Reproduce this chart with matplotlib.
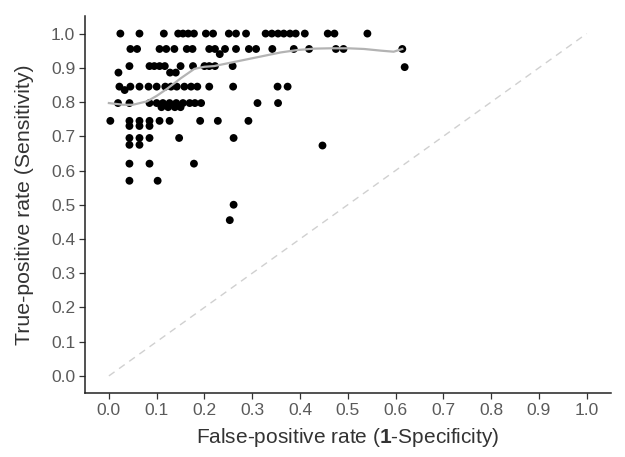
import matplotlib
matplotlib.use("Agg")
import matplotlib.pyplot as plt
import numpy as np

plt.rcParams['font.family'] = ['Liberation Sans', 'DejaVu Sans']
plt.rcParams['mathtext.fontset'] = 'custom'
plt.rcParams['mathtext.rm'] = 'Liberation Sans'
plt.rcParams['mathtext.bf'] = 'Liberation Sans:bold'

# Study points (false-positive rate, true-positive rate), grouped by sensitivity row
row_100 = [0.024, 0.064, 0.115, 0.145, 0.155, 0.166, 0.178, 0.203, 0.218, 0.251, 0.266,
           0.287, 0.328, 0.341, 0.354, 0.366, 0.379, 0.391, 0.41, 0.458, 0.472, 0.541]
row_955 = [0.045, 0.059, 0.106, 0.12, 0.137, 0.163, 0.175, 0.21, 0.222, 0.243, 0.266,
           0.293, 0.308, 0.342, 0.387, 0.419, 0.475, 0.491, 0.614]
row_905 = [0.043, 0.085, 0.095, 0.106, 0.117, 0.15, 0.176, 0.2, 0.21, 0.222, 0.259]
row_886 = [0.02, 0.128, 0.14]
row_845 = [0.022, 0.045, 0.064, 0.083, 0.1, 0.118, 0.13, 0.142, 0.158, 0.172, 0.185,
           0.21, 0.26, 0.353, 0.374]
row_797 = [0.019, 0.043, 0.085, 0.1, 0.113, 0.127, 0.141, 0.155, 0.169, 0.18, 0.193,
           0.311, 0.354]
row_785 = [0.11, 0.124, 0.138, 0.15]
row_745 = [0.003, 0.043, 0.064, 0.085, 0.106, 0.127, 0.191, 0.228, 0.292]
row_730 = [0.043, 0.064, 0.085]
row_695 = [0.043, 0.064, 0.085, 0.147, 0.261]
row_675 = [0.043, 0.064]
row_620 = [0.043, 0.085, 0.178]
row_570 = [0.043, 0.102]
row_500 = [0.261]
row_455 = [0.253]
extra_fpr = [0.232, 0.033, 0.447, 0.619]
extra_tpr = [0.94, 0.835, 0.673, 0.902]

rows = [(1.0, row_100), (0.955, row_955), (0.905, row_905), (0.886, row_886),
        (0.845, row_845), (0.797, row_797), (0.785, row_785), (0.745, row_745),
        (0.73, row_730), (0.695, row_695), (0.675, row_675), (0.62, row_620),
        (0.57, row_570), (0.5, row_500), (0.455, row_455)]

fpr = []
tpr = []
for sens, xs in rows:
    fpr += xs
    tpr += [sens] * len(xs)
fpr += extra_fpr
tpr += extra_tpr

# Smoothed summary curve
curve_x = [0.0, 0.03, 0.05, 0.08, 0.10, 0.123, 0.151, 0.179, 0.20, 0.22, 0.255, 0.29,
           0.325, 0.36, 0.395, 0.43, 0.464, 0.50, 0.534, 0.57, 0.596, 0.614]
curve_y = [0.797, 0.792, 0.792, 0.802, 0.818, 0.84, 0.87, 0.897, 0.903, 0.905, 0.915,
           0.925, 0.935, 0.945, 0.952, 0.956, 0.957, 0.957, 0.955, 0.95, 0.947, 0.955]

ticks = [0.0, 0.1, 0.2, 0.3, 0.4, 0.5, 0.6, 0.7, 0.8, 0.9, 1.0]
tick_labels = ["0.0", "0.1", "0.2", "0.3", "0.4", "0.5", "0.6", "0.7", "0.8", "0.9", "1.0"]

fig = plt.figure(figsize=(6.25, 4.57), dpi=100)
ax = fig.add_axes([0.136, 0.14, 0.841, 0.824])

ax.plot([0, 1], [0, 1], color='#d0d0d0', lw=1.0, dashes=(5, 4), zorder=1)
ax.scatter(fpr, tpr, s=32, color='black', edgecolors='none', zorder=2)
ax.plot(curve_x, curve_y, color='#b3b3b3', lw=1.6, zorder=3)

ax.set_xlim(-0.05, 1.05)
ax.set_ylim(-0.05, 1.05)
ax.set_xticks(ticks)
ax.set_xticklabels(tick_labels)
ax.set_yticks(ticks)
ax.set_yticklabels(tick_labels)

for s in ['top', 'right']:
    ax.spines[s].set_visible(False)
for s in ['left', 'bottom']:
    ax.spines[s].set_linewidth(1.1)
    ax.spines[s].set_color('#222222')

ax.tick_params(axis='both', direction='out', length=4, width=0.9, color='#333333',
               labelsize=12.5, labelcolor='#5a5a5a', pad=3)

ax.set_xlabel(r"False-positive rate ($\mathbf{1}$-Specificity)", fontsize=15,
              color='#333333', labelpad=6)
ax.set_ylabel("True-positive rate (Sensitivity)", fontsize=15.3, color='#333333', labelpad=12)

fig.savefig("out.png", dpi=100)
